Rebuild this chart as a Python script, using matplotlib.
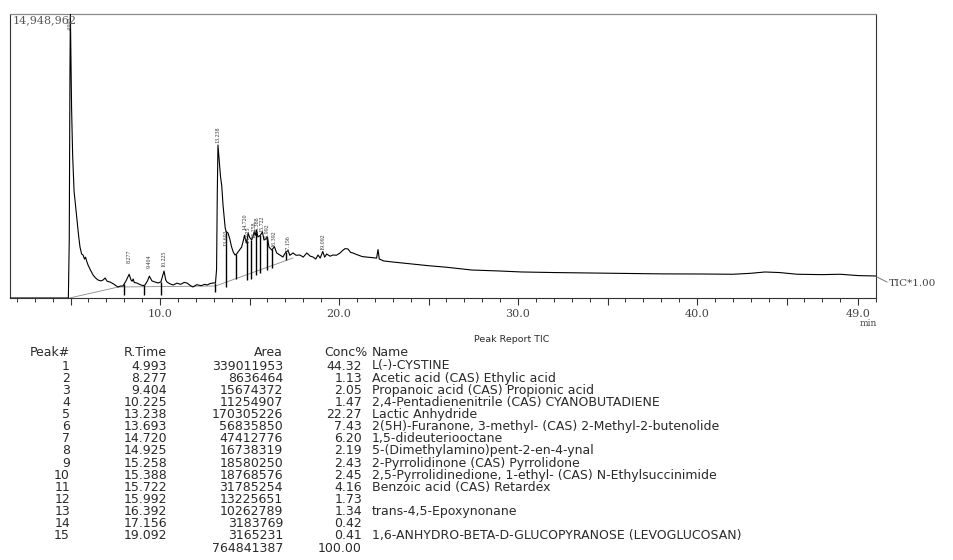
import numpy as np
import matplotlib
matplotlib.use("Agg")
import matplotlib.pyplot as plt
from matplotlib.lines import Line2D
from matplotlib.ticker import FixedLocator, MultipleLocator

W, H = 954, 560
MAX_INT = 14948962

# ---- chromatogram trace (time in min, intensity in counts) ----
trace_time = [1.62, 4.88, 4.93, 4.97, 4.993, 5.02, 5.06, 5.12, 5.20, 5.25, 5.36, 5.45, 5.53, 5.62,
              5.70, 5.78, 5.84, 5.90, 5.98, 6.10, 6.26, 6.40, 6.54, 6.70, 6.82, 6.93, 7.05, 7.21,
              7.40, 7.65, 7.80, 7.93, 8.10, 8.277, 8.38, 8.44, 8.50, 8.56, 8.70, 8.90, 9.05, 9.16,
              9.30, 9.404, 9.55, 9.72, 9.90, 10.05, 10.225, 10.32, 10.39, 10.55, 10.73, 10.95,
              11.15, 11.35, 11.51, 11.70, 11.84, 12.05, 12.30, 12.50, 12.63, 12.80, 12.96, 13.10,
              13.16, 13.20, 13.238, 13.30, 13.38, 13.45, 13.52, 13.58, 13.64, 13.693, 13.75, 13.80,
              13.90, 14.00, 14.10, 14.19, 14.28, 14.36, 14.46, 14.56, 14.65, 14.720, 14.78, 14.84,
              14.925, 15.00, 15.12, 15.20, 15.258, 15.32, 15.388, 15.47, 15.60, 15.722, 15.81,
              15.90, 15.992, 16.09, 16.24, 16.392, 16.52, 16.70, 16.87, 16.95, 17.04, 17.156, 17.25,
              17.43, 17.60, 17.82, 18.00, 18.20, 18.40, 18.55, 18.70, 18.83, 18.95, 19.092, 19.20,
              19.31, 19.50, 19.66, 19.85, 20.06, 20.20, 20.34, 20.50, 20.65, 20.78, 20.95, 21.06,
              21.30, 21.60, 21.90, 22.10, 22.18, 22.25, 22.50, 23.00, 24.00, 25.00, 26.00, 27.40,
              29.00, 30.20, 32.00, 33.90, 36.00, 38.00, 40.30, 42.00, 43.00, 43.80, 44.60, 45.60,
              47.00, 48.00, 49.00, 50.00]
trace_int = [0, 0, 3000000, 12000000, 14948962, 13000000, 10000000, 7500000, 5600000, 5160000,
             4106000, 3300000, 2684000, 2316000, 2263000, 2050000, 2150000, 1950000, 1737000,
             1500000, 1211000, 1053000, 947000, 900000, 947000, 1053000, 880000, 842000, 740000,
             579000, 630000, 632000, 900000, 1250000, 950000, 880000, 1000000, 820000, 790000,
             700000, 650000, 684000, 900000, 1150000, 900000, 842000, 790000, 850000, 1420000,
             950000, 842000, 750000, 684000, 780000, 720000, 820000, 790000, 650000, 579000,
             700000, 650000, 720000, 684000, 760000, 790000, 800000, 1500000, 5500000, 8053000,
             7300000, 6400000, 5900000, 4900000, 4300000, 3700000, 3500000, 3450000, 3421000,
             3100000, 2684000, 2400000, 2263000, 2320000, 2421000, 2550000, 2684000, 3000000,
             3300000, 3050000, 2895000, 3421000, 3200000, 3053000, 3250000, 3474000, 3300000,
             3579000, 3211000, 3300000, 3474000, 3053000, 3100000, 3211000, 2684000, 2527000,
             2700000, 2369000, 2263000, 2158000, 2300000, 2421000, 2500000, 2250000, 2369000,
             2250000, 2263000, 2150000, 2369000, 2200000, 2158000, 2050000, 2263000, 2100000,
             2450000, 2150000, 2316000, 2200000, 2263000, 2250000, 2369000, 2500000, 2600000,
             2579000, 2400000, 2369000, 2300000, 2263000, 2180000, 2150000, 2120000, 2100000,
             2550000, 2050000, 1950000, 1895000, 1800000, 1700000, 1620000, 1474000, 1420000,
             1370000, 1340000, 1316000, 1290000, 1270000, 1263000, 1250000, 1300000, 1369000,
             1340000, 1250000, 1230000, 1250000, 1180000, 1158000]

# ---- peak table ----
peak_no = list(range(1, 16))
peak_rt = [4.993, 8.277, 9.404, 10.225, 13.238, 13.693, 14.720, 14.925, 15.258, 15.388,
           15.722, 15.992, 16.392, 17.156, 19.092]
peak_area = [339011953, 8636464, 15674372, 11254907, 170305226, 56835850, 47412776, 16738319,
             18580250, 18768576, 31785254, 13225651, 10262789, 3183769, 3165231]
peak_conc = [44.32, 1.13, 2.05, 1.47, 22.27, 7.43, 6.20, 2.19, 2.43, 2.45, 4.16, 1.73, 1.34,
             0.42, 0.41]
peak_name = ["L(-)-CYSTINE",
             "Acetic acid (CAS) Ethylic acid",
             "Propanoic acid (CAS) Propionic acid",
             "2,4-Pentadienenitrile (CAS) CYANOBUTADIENE",
             "Lactic Anhydride",
             "2(5H)-Furanone, 3-methyl- (CAS) 2-Methyl-2-butenolide",
             "1,5-dideuteriooctane",
             "5-(Dimethylamino)pent-2-en-4-ynal",
             "2-Pyrrolidinone (CAS) Pyrrolidone",
             "2,5-Pyrrolidinedione, 1-ethyl- (CAS) N-Ethylsuccinimide",
             "Benzoic acid (CAS) Retardex",
             "",
             "trans-4,5-Epoxynonane",
             "",
             "1,6-ANHYDRO-BETA-D-GLUCOPYRANOSE (LEVOGLUCOSAN)"]
total_area = 764841387
total_conc = 100.00

# label anchor (bottom of rotated retention-time label), counts
label_base = [14107000, 1842000, 1579000, 1632000, 8159000, 2737000, 3579000, 2895000,
              3158000, 3421000, 3474000, 3053000, 2684000, 2421000, 2527000]

# integration drop lines and baselines
drop_time = [8.00, 9.10, 10.05, 13.10, 13.69, 14.25, 14.86, 15.10, 15.36, 15.59, 15.98, 16.27, 17.04]
drop_floor = [158000, 158000, 158000, 316000, 579000, 1000000, 947000, 1000000, 1200000,
              1300000, 1500000, 1600000, 2000000]
base_t = [[4.95, 7.67], [7.67, 13.10], [13.10, 17.43]]
base_v = [[0, 579000], [579000, 632000], [632000, 2105000]]

x_ticks = [5, 10, 15, 20, 25, 30, 35, 40, 45, 49]
x_labels = ["", "10.0", "", "20.0", "", "30.0", "", "40.0", "", "49.0"]

# ---------------------------------------------------------------
fig = plt.figure(figsize=(W / 100, H / 100), dpi=100)
fig.patch.set_facecolor("white")

def px(x, y):
    return x / W, 1 - y / H

ax = fig.add_axes([10 / W, (H - 298) / H, 866 / W, 284 / H])
ax.set_xlim(1.62, 50.0)
ax.set_ylim(0, MAX_INT)

for t, v in zip(base_t, base_v):
    ax.plot(t, v, color="#8a8a8a", lw=0.6, zorder=1)

ax.plot(trace_time, trace_int, color="black", lw=0.8, zorder=3)

tops = np.interp(drop_time, trace_time, trace_int)
ax.vlines(drop_time, drop_floor, tops, color="black", lw=1.0, zorder=2)

for rt, b in zip(peak_rt, label_base):
    ax.text(rt, b, f"{rt:.3f}", rotation=90, ha="center", va="bottom",
            fontsize=4.3, family="Liberation Serif", color="#333333", clip_on=True, zorder=4)

ax.set_yticks([])
ax.xaxis.set_major_locator(FixedLocator(x_ticks))
ax.set_xticklabels(x_labels)
ax.xaxis.set_minor_locator(MultipleLocator(1))
ax.tick_params(axis="x", which="major", direction="out", length=5, width=0.8,
               color="#333333", pad=3, labelsize=8, labelcolor="#444444")
ax.tick_params(axis="x", which="minor", direction="out", length=3, width=0.7, color="#333333")
for lab in ax.get_xticklabels():
    lab.set_family("DejaVu Serif")
for s in ["left", "right", "bottom"]:
    ax.spines[s].set_color("#333333")
    ax.spines[s].set_linewidth(0.8)
ax.spines["top"].set_color("#8a8a8a")
ax.spines["top"].set_linewidth(0.9)

fig.text(*px(13, 20), f"{MAX_INT:,}", ha="left", va="center", fontsize=8,
         family="DejaVu Serif", color="#555555")
fig.text(*px(868, 324), "min", ha="center", va="center", fontsize=6.5,
         family="DejaVu Serif", color="#444444")
fig.text(*px(889, 283), "TIC*1.00", ha="left", va="center", fontsize=7.5,
         family="DejaVu Serif", color="#444444")
fig.add_artist(Line2D([877 / W, 887 / W], [1 - 277 / H, 1 - 282 / H], color="#777777", lw=0.7))

# ---- peak report table ----
tk = dict(fontsize=9, family="DejaVu Sans", color="#2a2a2a", va="center")
fig.text(*px(512, 340), "Peak Report TIC", ha="center", fontsize=6.8,
         family="DejaVu Sans", color="#2a2a2a", va="center")
hy = 353
fig.text(*px(70, hy), "Peak#", ha="right", **tk)
fig.text(*px(167, hy), "R.Time", ha="right", **tk)
fig.text(*px(283, hy), "Area", ha="right", **tk)
fig.text(*px(368, hy), "Conc%", ha="right", **tk)
fig.text(*px(372, hy), "Name", ha="left", **tk)
row_h = 12.14
for i, (n, rt, a, c, nm) in enumerate(zip(peak_no, peak_rt, peak_area, peak_conc, peak_name)):
    y = 366 + i * row_h
    fig.text(*px(70, y), f"{n}", ha="right", **tk)
    fig.text(*px(167, y), f"{rt:.3f}", ha="right", **tk)
    fig.text(*px(283, y), f"{a}", ha="right", **tk)
    fig.text(*px(362, y), f"{c:.2f}", ha="right", **tk)
    if nm:
        fig.text(*px(372, y), nm, ha="left", **tk)
ty = 366 + 15 * row_h
fig.text(*px(283, ty), f"{total_area}", ha="right", **tk)
fig.text(*px(362, ty), f"{total_conc:.2f}", ha="right", **tk)

fig.savefig("out.png", dpi=100, facecolor="white")
